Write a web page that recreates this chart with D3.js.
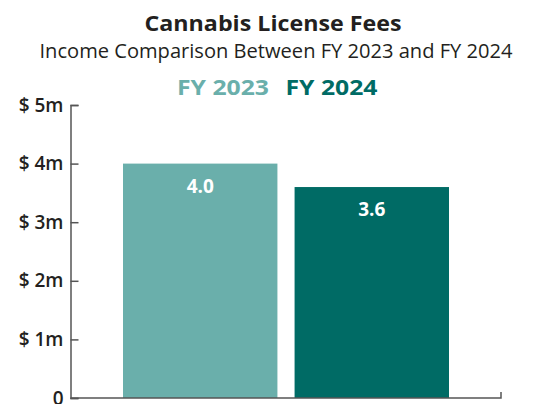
<!DOCTYPE html>
<html>
<head>
<meta charset="utf-8">
<script src="https://cdn.jsdelivr.net/npm/d3@7"></script>
<style>
  html, body { margin: 0; padding: 0; background: #fff; }
  svg { display: block; }
  text { font-family: "Open Sans", "Noto Sans", sans-serif; }
</style>
</head>
<body>
<svg id="chart" width="543" height="404"></svg>
<script>
// Fiscal years and license fee income (millions of dollars)
const categories = ["FY 2023", "FY 2024"];
const values = [4.0, 3.6];
const valueLabels = ["4.0", "3.6"];
const tickValues = [0, 1, 2, 3, 4, 5];
const tickLabels = ["0", "$ 1m", "$ 2m", "$ 3m", "$ 4m", "$ 5m"];
const colors = ["#6aafab", "#006b65"];

const svg = d3.select("#chart");

const axisX = 70.5, baseY = 398, topY = 105;
const y = d3.scaleLinear().domain([0, 5]).range([baseY, topY]);
const x = d3.scaleBand().domain(categories).range([123, 449])
  .paddingInner(0.1).paddingOuter(0);

// Titles
svg.append("text").attr("x", 273).attr("y", 31).attr("text-anchor", "middle")
  .attr("font-size", 22).attr("font-weight", 700).attr("fill", "#231f20")
  .attr("textLength", 257).attr("lengthAdjust", "spacingAndGlyphs")
  .text("Cannabis License Fees");
svg.append("text").attr("x", 276).attr("y", 58).attr("text-anchor", "middle")
  .attr("font-size", 19.5).attr("fill", "#231f20")
  .attr("textLength", 473).attr("lengthAdjust", "spacingAndGlyphs")
  .text("Income Comparison Between FY 2023 and FY 2024");

// Legend
const legendX = [223, 331.5];
svg.selectAll("text.legend").data(categories).join("text")
  .attr("class", "legend")
  .attr("x", (d, i) => legendX[i]).attr("y", 95).attr("text-anchor", "middle")
  .attr("font-size", 21).attr("font-weight", 700)
  .attr("textLength", 92).attr("lengthAdjust", "spacingAndGlyphs")
  .attr("fill", (d, i) => colors[i])
  .text(d => d);

// Bars
svg.selectAll("rect.bar").data(values).join("rect")
  .attr("class", "bar")
  .attr("x", (d, i) => x(categories[i]))
  .attr("y", d => y(d))
  .attr("width", x.bandwidth())
  .attr("height", d => baseY - y(d))
  .attr("fill", (d, i) => colors[i]);

// Value labels
svg.selectAll("text.val").data(values).join("text")
  .attr("class", "val")
  .attr("x", (d, i) => x(categories[i]) + x.bandwidth() / 2)
  .attr("y", d => y(d) + 29)
  .attr("text-anchor", "middle")
  .attr("font-size", 19).attr("font-weight", 700).attr("fill", "#fff")
  .text((d, i) => valueLabels[i]);

// Y axis
const yAxis = d3.axisLeft(y).tickValues(tickValues)
  .tickFormat((d, i) => tickLabels[i])
  .tickSize(-8).tickSizeOuter(-8).tickPadding(7);
const gy = svg.append("g").attr("transform", `translate(${axisX},0)`).call(yAxis);
gy.selectAll("path, line").attr("stroke", "#555").attr("stroke-width", 1.5);
gy.selectAll("text").attr("font-size", 19).attr("font-weight", 600)
  .attr("fill", "#231f20").attr("font-family", "\"Open Sans\", sans-serif");

// X axis baseline with end hook
svg.append("path")
  .attr("d", `M${axisX},${baseY}H501V${baseY - 6}`)
  .attr("fill", "none").attr("stroke", "#555").attr("stroke-width", 1.5);
</script>
</body>
</html>
